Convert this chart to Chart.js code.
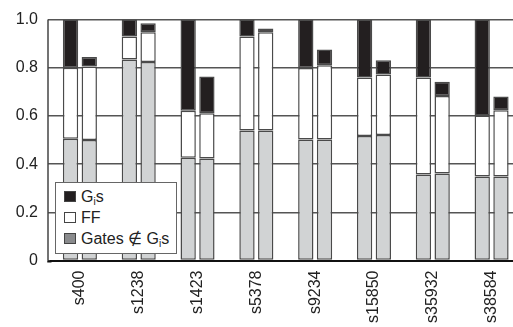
<!DOCTYPE html>
<html>
<head>
<meta charset="utf-8">
<script src="https://cdn.jsdelivr.net/npm/chart.js@4.4.0/dist/chart.umd.min.js"></script>
<style>
html,body{margin:0;padding:0;background:#fff;overflow:hidden;width:513px;height:327px;}
#wrap{position:relative;width:521px;height:327px;}
#legend{position:absolute;left:55px;top:182px;width:122px;height:72px;border:1px solid #666;background:#fff;
 font-family:"Liberation Sans",Arial,sans-serif;font-size:16px;color:#222;box-sizing:border-box;padding-top:3px;}
#legend .row{height:21px;line-height:21px;white-space:nowrap;position:relative;padding-left:25px;}
#legend .sw{position:absolute;left:8px;top:5px;width:12px;height:11px;box-sizing:border-box;border:1px solid #444;}
#legend sub{font-size:10px;vertical-align:-3px;line-height:0;}
</style>
</head>
<body>
<div id="wrap">
<canvas id="c" width="521" height="327"></canvas>
<div id="legend">
 <div class="row"><span class="sw" style="background:#231f20"></span>G<sub>i</sub>s</div>
 <div class="row"><span class="sw" style="background:#fff"></span>FF</div>
 <div class="row"><span class="sw" style="background:#8a8b8d"></span>Gates ∉ G<sub>i</sub>s</div>
</div>
</div>
<script>
const categories = ["s400","s1238","s1423","s5378","s9234","s15850","s35932","s38584"];
const yTickLabels = ["0","0.2","0.4","0.6","0.8","1.0"];
// first (taller) bar of each pair
const barA_gates = [0.505,0.834,0.427,0.540,0.502,0.517,0.357,0.349];
const barA_ff    = [0.295,0.096,0.195,0.390,0.297,0.243,0.403,0.253];
const barA_gis   = [0.200,0.070,0.378,0.070,0.201,0.240,0.240,0.398];
// second (shorter) bar of each pair
const barB_gates = [0.500,0.824,0.423,0.540,0.502,0.521,0.361,0.349];
const barB_ff    = [0.305,0.124,0.188,0.408,0.308,0.251,0.322,0.275];
const barB_gis   = [0.040,0.037,0.153,0.015,0.066,0.059,0.059,0.057];

const GREY='#d1d3d4', WHITE='#ffffff', BLACK='#231f20', EDGE='#4a4a4a';
function ds(label,data,color,stack){
  return {label,data,backgroundColor:color,borderColor:EDGE,borderWidth:1.5,borderSkipped:false,stack,
    categoryPercentage:0.637,barPercentage:0.818};
}
const font={family:'"Liberation Sans", Arial, sans-serif',size:16};
// left axis line drawn slightly left of the first category's band, as in the reference
const axisLine={id:'axisLine',afterDraw(chart){
  const {ctx,scales:{y}}=chart; const x=y.right-2.5;
  ctx.save();ctx.strokeStyle='#444';ctx.lineWidth=1.5;
  ctx.beginPath();ctx.moveTo(x,y.getPixelForValue(1));ctx.lineTo(x,y.getPixelForValue(0));ctx.stroke();
  ctx.strokeStyle='#111';ctx.lineWidth=2;
  ctx.beginPath();ctx.moveTo(x-0.75,y.getPixelForValue(0)+1);ctx.lineTo(y.right+1,y.getPixelForValue(0)+1);ctx.stroke();
  ctx.restore();
}};
new Chart(document.getElementById('c'),{
  type:'bar',
  data:{labels:categories,datasets:[
    ds('Gates A',barA_gates,GREY,'a'),
    ds('FF A',barA_ff,WHITE,'a'),
    ds('Gis A',barA_gis,BLACK,'a'),
    ds('Gates B',barB_gates,GREY,'b'),
    ds('FF B',barB_ff,WHITE,'b'),
    ds('Gis B',barB_gis,BLACK,'b')
  ]},
  plugins:[axisLine],
  options:{
    responsive:false,animation:false,
    layout:{padding:{top:11.4,right:0,left:0,bottom:0}},
    plugins:{legend:{display:false},tooltip:{enabled:false}},
    scales:{
      x:{stacked:true,grid:{display:false,drawTicks:false},border:{color:'#111',width:2},
        ticks:{font,color:'#222',minRotation:90,maxRotation:90,padding:10,autoSkip:false},
        afterFit(s){s.height=66.5;}},
      y:{stacked:true,min:0,max:1.0,
        grid:{color:'#555',lineWidth:1.5,drawTicks:true,tickLength:2.5,tickColor:'#555'},
        border:{display:false},
        ticks:{stepSize:0.2,font,color:'#222',padding:10,
          callback:(v,i)=>yTickLabels[i]},
        afterFit(s){s.width=50.5;}}
    }
  }
});
</script>
</body>
</html>
